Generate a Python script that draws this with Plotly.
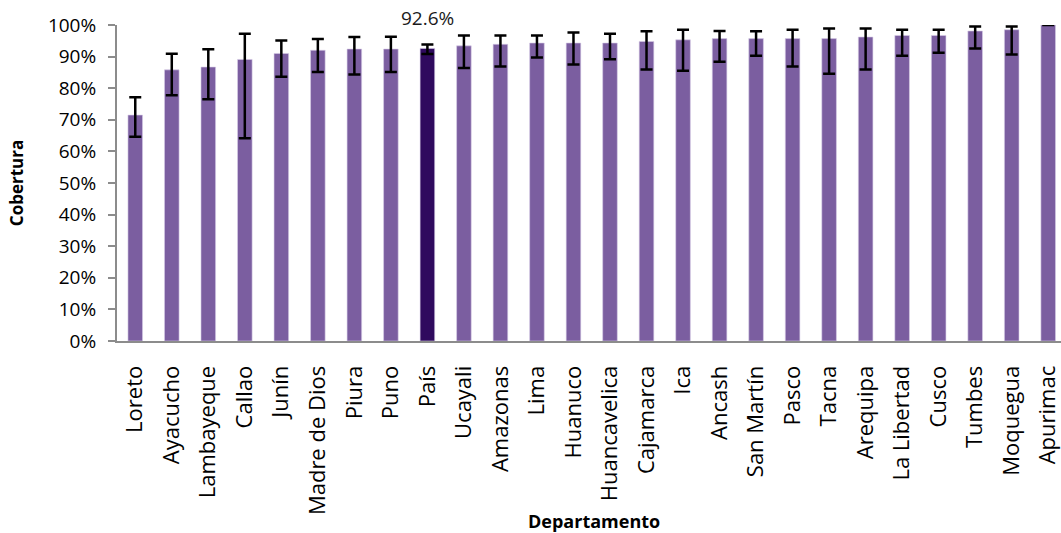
import plotly.graph_objects as go

categories = ["Loreto", "Ayacucho", "Lambayeque", "Callao", "Junín", "Madre de Dios",
              "Piura", "Puno", "País", "Ucayali", "Amazonas", "Lima", "Huanuco",
              "Huancavelica", "Cajamarca", "Ica", "Ancash", "San Martín", "Pasco",
              "Tacna", "Arequipa", "La Libertad", "Cusco", "Tumbes", "Moquegua", "Apurimac"]
coverage = [71.5, 85.8, 86.7, 89.1, 91.0, 92.0, 92.4, 92.4, 92.6, 93.4, 93.9, 94.3, 94.3,
            94.3, 94.8, 95.3, 95.7, 95.7, 95.7, 95.7, 96.2, 96.7, 96.7, 98.1, 98.5, 100.0]
upper = [77.1, 90.9, 92.3, 97.2, 95.1, 95.6, 96.2, 96.3, 93.8, 96.7, 96.7, 96.7, 97.6,
         97.2, 98.0, 98.5, 98.1, 98.0, 98.5, 98.9, 98.9, 98.5, 98.5, 99.5, 99.5, 100.0]
lower = [64.6, 77.8, 76.5, 64.2, 83.6, 85.1, 84.3, 85.1, 90.8, 86.4, 86.9, 89.7, 87.5,
         89.2, 85.9, 85.5, 88.4, 90.3, 86.9, 84.6, 85.9, 90.3, 91.2, 92.6, 90.7, 100.0]
label_text = "92.6%"
x_title = "Departamento"
y_title = "Cobertura"

err_plus = [u - c for u, c in zip(upper, coverage)]
err_minus = [c - l for c, l in zip(coverage, lower)]
colors = ["#2F0A5E" if c == "País" else "#7B5EA0" for c in categories]

fig = go.Figure()
fig.add_trace(go.Bar(
    x=categories, y=coverage, width=0.4,
    marker=dict(color=colors, line=dict(color="#D9CFE8", width=0.6)),
    error_y=dict(type="data", symmetric=False, array=err_plus, arrayminus=err_minus,
                 color="black", thickness=2.5, width=6),
    cliponaxis=False,
))
fig.add_annotation(x="País", y=100, text=label_text, showarrow=False,
                   yanchor="middle", yshift=7, font=dict(size=19, color="#1a1a1a"))
fig.add_annotation(xref="paper", yref="paper", x=0.505, y=0, yshift=-180,
                   text="<b>" + x_title + "</b>", showarrow=False,
                   xanchor="center", yanchor="middle", font=dict(size=18, color="black"))

n = len(categories)
fig.update_layout(
    width=1061, height=533,
    margin=dict(l=117, r=0, t=25, b=192),
    plot_bgcolor="white", paper_bgcolor="white",
    font=dict(family="Open Sans", size=19, color="black"),
    showlegend=False,
    xaxis=dict(range=[-0.5, n - 0.5 - 0.15], tickangle=-90, showline=True,
               linecolor="#8c8c8c", linewidth=2, ticks="", showgrid=False,
               tickfont=dict(size=22), ticklabelstandoff=14, automargin=False),
    yaxis=dict(range=[0, 100], dtick=10, ticksuffix="%", showline=True,
               linecolor="#8c8c8c", linewidth=2, ticks="outside", ticklen=7,
               tickcolor="#8c8c8c", tickwidth=2, showgrid=False,
               tickfont=dict(size=19), ticklabelstandoff=8, automargin=False,
               title=dict(text="<b>" + y_title + "</b>", font=dict(size=17), standoff=20)),
)

fig.write_html("out.html", config={"displayModeBar": False},
               post_script="document.body.style.margin='0';document.body.style.overflow='hidden';")
